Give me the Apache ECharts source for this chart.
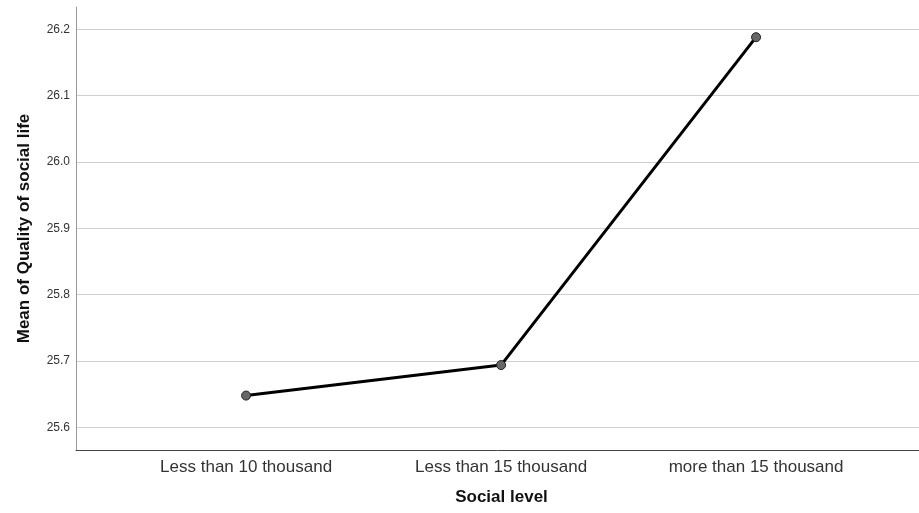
<!DOCTYPE html>
<html>
<head>
<meta charset="utf-8">
<script src="https://cdn.jsdelivr.net/npm/echarts@6/dist/echarts.min.js"></script>
<style>html,body{margin:0;padding:0;background:#fff}#c{width:919px;height:513px}</style>
</head>
<body>
<div id="c"></div>
<script>
const categories = ['Less than 10 thousand', 'Less than 15 thousand', 'more than 15 thousand'];
const means = [25.648, 25.694, 26.188];
const yTicks = [25.6, 25.7, 25.8, 25.9, 26.0, 26.1, 26.2];

const chart = echarts.init(document.getElementById('c'), null, {renderer: 'canvas'});
chart.setOption({
  animation: false,
  backgroundColor: '#ffffff',
  grid: {left: 76, right: 0, top: 7, bottom: 63},
  xAxis: {
    type: 'value',
    min: -0.667,
    max: 2.639,
    name: 'Social level',
    nameLocation: 'middle',
    nameGap: 39,
    nameTextStyle: {fontFamily: 'Liberation Sans, Arial, sans-serif', fontSize: 17, fontWeight: 'bold', color: '#111', padding: [0, 0, 0, 8]},
    axisLine: {show: true, onZero: false, lineStyle: {color: '#444', width: 1}},
    axisTick: {show: false, customValues: categories.map((c, i) => i)},
    splitLine: {show: false},
    axisLabel: {
      customValues: categories.map((c, i) => i),
      formatter: v => categories[Math.round(v)] || '',
      fontFamily: 'Liberation Sans, Arial, sans-serif',
      fontSize: 17,
      color: '#333',
      margin: 9
    }
  },
  yAxis: {
    type: 'value',
    min: 25.566,
    max: 26.2335,
    name: 'Mean of Quality of social life',
    nameLocation: 'middle',
    nameGap: 43,
    nameTextStyle: {fontFamily: 'Liberation Sans, Arial, sans-serif', fontSize: 17, fontWeight: 'bold', color: '#111'},
    axisLine: {show: true, onZero: false, lineStyle: {color: '#999', width: 1}},
    axisTick: {show: false, customValues: yTicks},
    splitLine: {show: true, lineStyle: {color: '#cfcfcf', width: 1}},
    axisLabel: {
      customValues: yTicks,
      formatter: v => v.toFixed(1),
      fontFamily: 'Liberation Sans, Arial, sans-serif',
      fontSize: 12,
      color: '#333',
      margin: 6
    }
  },
  series: [{
    type: 'line',
    data: means.map((v, i) => [i, v]),
    symbol: 'circle',
    symbolSize: 9,
    lineStyle: {color: '#000', width: 3},
    itemStyle: {color: '#666', borderColor: '#222', borderWidth: 1},
    z: 5
  }]
});
</script>
</body>
</html>
